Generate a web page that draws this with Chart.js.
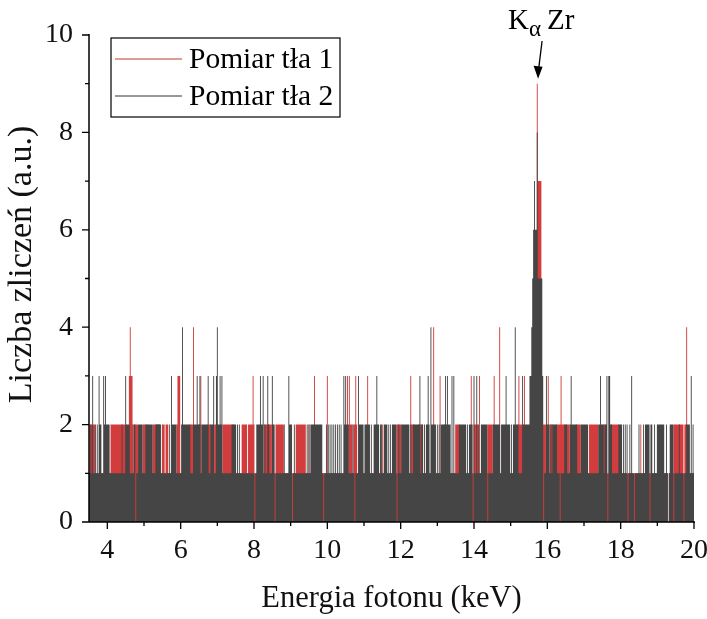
<!DOCTYPE html>
<html>
<head>
<meta charset="utf-8">
<script src="https://cdn.jsdelivr.net/npm/chart.js@4/dist/chart.umd.min.js"></script>
<style>
  html, body { margin: 0; background: #fff; }
  #wrap { width: 707px; height: 619px; }
</style>
</head>
<body>
<div id="wrap"><canvas id="myChart"></canvas></div>
<script>
// energy axis (keV) and channel width of the spectrum
const eStart = 3.5;
const eEnd = 20;
const chanWidth = 0.025;
const baseCount = 1;

const xTicks = [4, 6, 8, 10, 12, 14, 16, 18, 20];
const xMinor = [5, 7, 9, 11, 13, 15, 17, 19];
const yTicks = [0, 2, 4, 6, 8, 10];
const yMinor = [1, 3, 5, 7, 9];

const seriesNames = ['Pomiar tła 1', 'Pomiar tła 2'];
const xTitle = 'Energia fotonu (keV)';
const yTitle = 'Liczba zliczeń (a.u.)';

// Pomiar tła 1 (red): stretches at 2 counts, spikes [keV, counts], peak [from, to, counts]
const redBlocks = [
  [3.52, 3.64], [4.09, 4.20], [4.23, 4.33], [4.36, 4.50], [4.74, 4.82], [4.97, 5.05],
  [5.25, 5.32], [5.35, 5.42], [5.49, 5.56], [5.59, 5.65], [5.89, 5.96], [6.25, 6.33],
  [6.50, 6.56], [6.75, 6.82], [6.92, 6.99], [7.16, 7.27], [7.30, 7.39], [7.68, 7.80],
  [7.84, 7.94], [8.28, 8.38], [8.41, 8.48], [8.59, 8.68], [8.71, 8.79], [9.14, 9.24],
  [9.28, 9.39], [10.59, 10.67], [10.72, 10.80], [11.91, 11.99], [12.29, 12.36],
  [12.50, 12.57], [13.51, 13.59], [14.01, 14.09], [14.38, 14.50], [15.20, 15.32],
  [15.84, 15.96], [16.07, 16.15], [16.25, 16.34], [16.38, 16.47], [16.52, 16.59],
  [16.80, 16.91], [17.16, 17.27], [17.30, 17.38], [17.53, 17.58], [17.76, 17.85],
  [17.88, 17.94], [19.45, 19.52], [19.55, 19.59], [19.63, 19.71], [19.74, 19.80]
];
const redLines = [4.70, 5.10, 7.45, 8.00, 9.50, 11.50, 13.20, 18.55];
const redSpikes = [
  [4.60, 3], [4.62, 4], [4.65, 3], [4.67, 3], [5.92, 3], [5.95, 3], [5.98, 3],
  [6.36, 4], [6.56, 3], [7.98, 3], [9.65, 3], [9.99, 3], [10.55, 3], [10.59, 3],
  [10.77, 3], [11.09, 3], [12.28, 3], [12.90, 4], [13.07, 3], [13.92, 3], [14.15, 3],
  [14.56, 3], [14.71, 4], [15.22, 3], [15.38, 3], [16.02, 3], [16.38, 3], [19.81, 4]
];
const redPeak = [[15.72, 15.72, 9], [15.75, 15.82, 7]];
const redZeros = [19.30];

// Pomiar tła 2 (dark)
const darkBlocks = [
  [3.78, 3.82], [3.90, 4.02], [4.51, 4.59], [4.72, 4.75], [4.84, 4.96], [5.06, 5.17],
  [5.33, 5.46], [5.75, 5.88], [6.02, 6.12], [6.15, 6.22], [6.34, 6.49], [6.57, 6.72],
  [6.83, 6.90], [7.01, 7.07], [7.39, 7.47], [8.07, 8.16], [8.19, 8.26], [8.49, 8.57],
  [8.94, 9.02], [9.56, 9.64], [9.67, 9.72], [9.74, 9.86], [10.45, 10.57], [10.86, 10.98],
  [11.02, 11.12], [11.27, 11.40], [11.55, 11.63], [11.77, 11.90], [12.05, 12.14],
  [12.17, 12.23], [12.34, 12.39], [12.46, 12.50], [12.57, 12.60], [12.69, 12.78],
  [12.82, 12.96], [13.10, 13.29], [13.32, 13.36], [13.61, 13.67], [13.70, 13.74],
  [13.88, 14.00], [14.20, 14.24], [14.31, 14.37], [14.56, 14.70], [14.74, 14.86],
  [14.89, 14.97], [15.11, 15.20], [15.33, 15.45], [15.47, 15.56], [15.97, 16.06],
  [16.16, 16.24], [16.48, 16.52], [16.66, 16.79], [16.93, 17.07], [17.39, 17.52],
  [17.58, 17.75], [17.94, 18.03], [18.67, 18.85], [18.99, 19.08], [19.11, 19.17],
  [19.35, 19.44], [19.81, 19.88]
];
const darkLines = [
  3.55, 3.68, 3.72, 4.05, 4.40, 5.20, 5.22, 5.70, 6.24, 7.10, 7.50, 7.55, 7.60, 8.30, 8.40,
  8.82, 9.10, 9.45, 9.50, 9.98, 10.02, 10.08, 10.12, 10.18, 10.22, 10.28, 10.33, 10.38,
  10.70, 11.16, 11.20, 11.45, 11.48, 11.68, 11.72, 11.95, 12.02, 12.27, 12.42, 12.65,
  13.00, 13.05, 13.40, 13.46, 13.78, 13.82, 14.12, 14.28, 14.52, 15.03, 15.08, 16.11,
  16.62, 16.97, 17.10, 18.07, 18.12, 18.17, 18.26, 18.49, 18.62, 18.92, 19.26, 19.60,
  19.92, 19.97
];
const darkSpikes = [
  [3.60, 3], [3.78, 3], [3.89, 3], [3.94, 3], [4.51, 3], [5.75, 3], [6.05, 4], [6.45, 3],
  [6.52, 3], [6.75, 3], [6.91, 3], [6.98, 3], [7.01, 4], [7.07, 3], [7.13, 3], [8.17, 3],
  [8.26, 3], [8.38, 3], [8.49, 3], [8.94, 3], [10.45, 3], [10.51, 3], [10.86, 3],
  [11.34, 3], [12.52, 3], [12.76, 3], [12.83, 4], [13.23, 3], [13.28, 3], [13.40, 3],
  [13.46, 3], [14.01, 3], [14.07, 3], [14.88, 3], [15.13, 4], [15.33, 3], [15.97, 3],
  [16.66, 3], [17.44, 3], [17.62, 3], [17.66, 3], [17.68, 3], [17.71, 3], [18.30, 3],
  [19.92, 3], [15.63, 6], [15.65, 7], [15.67, 6], [15.69, 6], [15.72, 8]
];
const darkPeak = [[15.52, 15.57, 3], [15.58, 15.60, 4], [15.61, 15.86, 5], [15.87, 15.88, 3]];
const darkZeros = [
  4.77, 8.03, 8.58, 9.05, 9.90, 10.75, 11.89, 13.97, 14.37, 15.89, 16.35, 17.64,
  18.21, 18.38, 18.80, 19.30, 19.45, 19.72
];

const peakEnergy = 15.72;

const energies = [];
for (let e = eStart; e <= eEnd + 1e-9; e += chanWidth) energies.push(+e.toFixed(3));

function buildSpectrum(blocks, lines, spikes, peak, zeros) {
  const counts = energies.map(() => baseCount);
  const at = e => Math.round((e - eStart) / chanWidth);
  const raise = (i, h) => {
    if (i >= 0 && i < counts.length) counts[i] = Math.max(counts[i], h);
  };
  blocks.forEach(([a, b]) => { for (let i = at(a); i <= at(b); i++) raise(i, 2); });
  peak.forEach(([a, b, h]) => { for (let i = at(a); i <= at(b); i++) raise(i, h); });
  lines.forEach(e => raise(at(e), 2));
  spikes.forEach(([e, h]) => raise(at(e), h));
  zeros.forEach(e => { counts[at(e)] = 0; });
  return energies.map((e, i) => ({ x: e, y: counts[i] }));
}

const redColor = '#d23c3c';
const darkColor = '#454545';
const serif = "'Liberation Serif', 'Times New Roman', serif";

const axesPlugin = {
  id: 'originAxes',
  afterDatasetsDraw(chart) {
    const { ctx, chartArea: a, scales: { x, y } } = chart;
    const seg = (x1, y1, x2, y2) => { ctx.moveTo(x1, y1); ctx.lineTo(x2, y2); };
    ctx.save();
    ctx.strokeStyle = '#000';
    ctx.lineWidth = 1.5;
    ctx.beginPath();
    seg(a.left, a.top - 1, a.left, a.bottom);
    seg(a.left, a.bottom, a.right + 1, a.bottom);
    ctx.stroke();
    ctx.lineWidth = 1.3;
    ctx.beginPath();
    xTicks.forEach(v => { const p = x.getPixelForValue(v); seg(p, a.bottom, p, a.bottom + 7); });
    xMinor.forEach(v => { const p = x.getPixelForValue(v); seg(p, a.bottom, p, a.bottom + 4); });
    yTicks.forEach(v => { const p = y.getPixelForValue(v); seg(a.left - 7, p, a.left, p); });
    yMinor.forEach(v => { const p = y.getPixelForValue(v); seg(a.left - 4, p, a.left, p); });
    ctx.stroke();
    // y axis title, a little above the middle as in the original
    ctx.fillStyle = '#111';
    ctx.font = '34px ' + serif;
    ctx.textAlign = 'center';
    ctx.textBaseline = 'middle';
    ctx.translate(22, (a.top + a.bottom) / 2 - 14);
    ctx.rotate(-Math.PI / 2);
    ctx.fillText(yTitle, 0, 0);
    ctx.restore();
  }
};

const legendPlugin = {
  id: 'boxLegend',
  afterDraw(chart) {
    const { ctx, chartArea: a } = chart;
    const left = a.left + 22, top = a.top + 3, w = 229, h = 79;
    ctx.save();
    ctx.strokeStyle = '#000';
    ctx.lineWidth = 1.2;
    ctx.strokeRect(left, top, w, h);
    ctx.font = '29.5px ' + serif;
    ctx.textBaseline = 'middle';
    chart.data.datasets.forEach((ds, i) => {
      const yy = top + 21 + i * 37;
      ctx.strokeStyle = ds.legendColor;
      ctx.lineWidth = 1;
      ctx.beginPath();
      ctx.moveTo(left + 4, yy);
      ctx.lineTo(left + 71, yy);
      ctx.stroke();
      ctx.fillStyle = '#000';
      ctx.fillText(ds.label, left + 78, yy + 1);
    });
    ctx.restore();
  }
};

const peakLabelPlugin = {
  id: 'peakLabel',
  afterDraw(chart) {
    const { ctx, scales: { x, y } } = chart;
    const px = x.getPixelForValue(peakEnergy);
    const tipY = y.getPixelForValue(9.1);
    ctx.save();
    ctx.fillStyle = '#000';
    ctx.textBaseline = 'alphabetic';
    ctx.font = '29px ' + serif;
    ctx.fillText('K', px - 29, 29);
    ctx.font = '23px ' + serif;
    ctx.fillText('α', px - 8, 36);
    ctx.font = '29px ' + serif;
    ctx.fillText('Zr', px + 10, 29);
    // arrow
    const x0 = px + 5, y0 = 41, x1 = px + 1, y1 = tipY;
    ctx.strokeStyle = '#000';
    ctx.lineWidth = 1.3;
    ctx.beginPath();
    ctx.moveTo(x0, y0);
    ctx.lineTo(x1 + 0.6, y1 - 10);
    ctx.stroke();
    ctx.beginPath();
    ctx.moveTo(x1, y1);
    ctx.lineTo(x1 - 4.5, y1 - 13);
    ctx.lineTo(x1 + 4.5, y1 - 12);
    ctx.closePath();
    ctx.fill();
    ctx.restore();
  }
};

const config = {
  type: 'line',
  data: {
    datasets: [
      {
        label: seriesNames[0],
        data: buildSpectrum(redBlocks, redLines, redSpikes, redPeak, redZeros),
        backgroundColor: redColor,
        borderColor: redColor,
        legendColor: '#c0392b',
        borderWidth: 0,
        fill: 'origin',
        stepped: 'middle',
        pointRadius: 0,
        order: 1
      },
      {
        label: seriesNames[1],
        data: buildSpectrum(darkBlocks, darkLines, darkSpikes, darkPeak, darkZeros),
        backgroundColor: darkColor,
        borderColor: darkColor,
        legendColor: '#333333',
        borderWidth: 0,
        fill: 'origin',
        stepped: 'middle',
        pointRadius: 0,
        order: 0
      }
    ]
  },
  options: {
    responsive: true,
    maintainAspectRatio: false,
    animation: false,
    layout: { padding: { top: 35, right: 13, left: 0, bottom: 0 } },
    plugins: {
      legend: { display: false },
      tooltip: { enabled: false }
    },
    scales: {
      x: {
        type: 'linear',
        min: eStart,
        max: eEnd,
        afterBuildTicks: scale => { scale.ticks = xTicks.map(v => ({ value: v })); },
        afterFit: scale => {
          scale.height = 97;
          scale.paddingLeft = 0;
          scale.paddingRight = 0;
        },
        grid: { display: false, drawTicks: false },
        border: { display: false },
        ticks: { padding: 12, color: '#111', font: { family: serif, size: 28 }, maxRotation: 0 },
        title: {
          display: true,
          text: xTitle,
          color: '#111',
          font: { family: serif, size: 30.5 },
          padding: { top: 0, bottom: 2 }
        }
      },
      y: {
        min: 0,
        max: 10,
        afterBuildTicks: scale => { scale.ticks = yTicks.map(v => ({ value: v })); },
        afterFit: scale => {
          scale.width = 89;
          scale.paddingTop = 0;
          scale.paddingBottom = 0;
        },
        grid: { display: false, drawTicks: false },
        border: { display: false },
        ticks: { padding: 16, color: '#111', font: { family: serif, size: 28 } },
        title: { display: false }
      }
    }
  },
  plugins: [axesPlugin, legendPlugin, peakLabelPlugin]
};

window.myChart = new Chart(document.getElementById('myChart'), config);
</script>
</body>
</html>
